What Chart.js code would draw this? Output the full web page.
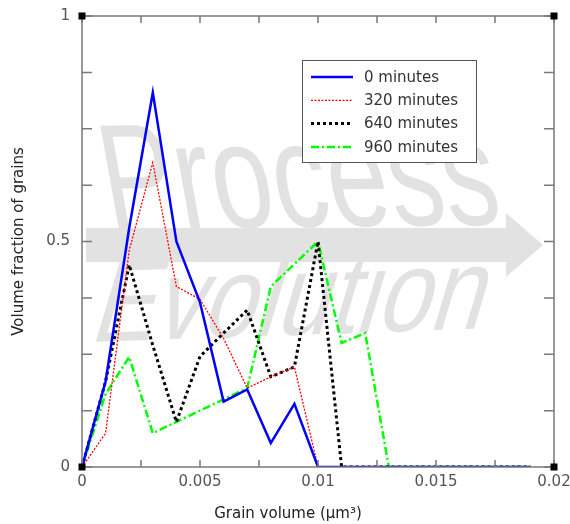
<!DOCTYPE html>
<html>
<head>
<meta charset="utf-8">
<script src="https://cdn.jsdelivr.net/npm/chart.js@4.4.1/dist/chart.umd.min.js"></script>
<style>
  html, body { margin: 0; padding: 0; background: #fff; }
</style>
</head>
<body>
<canvas id="grainChart" width="570" height="524"></canvas>
<script>
// grain volume (um^3) sample points
const grainVolume = [0, 0.001, 0.002, 0.003, 0.004, 0.005, 0.006, 0.007, 0.008, 0.009,
  0.01, 0.011, 0.012, 0.013, 0.014, 0.015, 0.016, 0.017, 0.018, 0.019];

const min0 = [0, 0.19, 0.53, 0.83, 0.5, 0.365, 0.145, 0.172, 0.053, 0.14,
  0, 0, 0, 0, 0, 0, 0, 0, 0, 0];
const min320 = [0, 0.075, 0.48, 0.675, 0.4, 0.372, 0.285, 0.175, 0.2, 0.222,
  0, 0, 0, 0, 0, 0, 0, 0, 0, 0];
const min640 = [0, 0.19, 0.448, 0.27, 0.1, 0.245, 0.297, 0.348, 0.2, 0.222,
  0.5, 0, 0, 0, 0, 0, 0, 0, 0, 0];
const min960 = [0, 0.162, 0.244, 0.075, 0.1, 0.125, 0.15, 0.175, 0.4, 0.45,
  0.5, 0.275, 0.297, 0, 0, 0, 0, 0, 0, 0];

const seriesLabels = ["0 minutes", "320 minutes", "640 minutes", "960 minutes"];
const xTickLabels = ["0", "0.005", "0.01", "0.015", "0.02"];
const yTickLabels = ["0", "0.5", "1"];

function toPoints(ys) {
  return grainVolume.map((x, i) => ({ x: x, y: ys[i] }));
}

// faint "Process Evolution" artwork behind the curves
const watermark = {
  id: "watermark",
  beforeDatasetsDraw(chart) {
    const ctx = chart.ctx;
    ctx.save();
    ctx.fillStyle = "#e2e2e2";

    function skewedText(txt, size, x, y, width, tilt, lean) {
      ctx.save();
      ctx.font = size + "px 'Liberation Sans', Arial, sans-serif";
      const w = ctx.measureText(txt).width;
      ctx.translate(x, y);
      ctx.transform(1, tilt, lean, 1, 0, 0);
      ctx.scale(width / w, 1);
      ctx.fillText(txt, 0, 0);
      ctx.restore();
    }
    skewedText("Process", 150, 110, 229, 395, -0.012, 0.18);

    // arrow
    ctx.beginPath();
    ctx.moveTo(86, 228);
    ctx.lineTo(506, 228);
    ctx.lineTo(506, 213);
    ctx.lineTo(543, 245);
    ctx.lineTo(506, 277);
    ctx.lineTo(506, 262);
    ctx.lineTo(86, 262);
    ctx.closePath();
    ctx.fill();

    skewedText("Evolution", 116, 88, 342, 392, -0.035, -0.3);
    ctx.restore();
  }
};

// box, inward ticks, corner markers, legend and x title
const frame = {
  id: "frame",
  afterDraw(chart) {
    const ctx = chart.ctx;
    const a = chart.chartArea;
    const xs = chart.scales.x;
    const ys = chart.scales.y;
    ctx.save();
    ctx.strokeStyle = "#7a7a7a";
    ctx.lineWidth = 1.5;
    ctx.strokeRect(a.left, a.top, a.right - a.left, a.bottom - a.top);

    ctx.beginPath();
    xs.ticks.forEach((t) => {
      const px = xs.getPixelForValue(t.value);
      ctx.moveTo(px, a.bottom);
      ctx.lineTo(px, a.bottom - 7);
      ctx.moveTo(px, a.top);
      ctx.lineTo(px, a.top + 7);
    });
    ys.ticks.forEach((t) => {
      const py = ys.getPixelForValue(t.value);
      ctx.moveTo(a.left, py);
      ctx.lineTo(a.left + 10, py);
      ctx.moveTo(a.right, py);
      ctx.lineTo(a.right - 10, py);
    });
    ctx.stroke();

    ctx.fillStyle = "#000";
    [[a.left, a.top], [a.right, a.top], [a.left, a.bottom], [a.right, a.bottom]].forEach((c) => {
      ctx.fillRect(c[0] - 3.5, c[1] - 3.5, 7, 7);
    });

    // legend
    const lx = 302, ly = 60, lw = 174, lh = 102;
    ctx.fillStyle = "#fff";
    ctx.fillRect(lx, ly, lw, lh);
    ctx.strokeStyle = "#555";
    ctx.lineWidth = 1;
    ctx.strokeRect(lx + 0.5, ly + 0.5, lw, lh);
    ctx.font = "15px 'DejaVu Sans', Verdana, sans-serif";
    ctx.textBaseline = "middle";
    chart.data.datasets.forEach((ds, i) => {
      const yy = 77 + i * 23.3;
      ctx.strokeStyle = ds.borderColor;
      ctx.lineWidth = ds.borderWidth;
      ctx.setLineDash(ds.borderDash || []);
      ctx.beginPath();
      ctx.moveTo(311, yy);
      ctx.lineTo(353, yy);
      ctx.stroke();
      ctx.setLineDash([]);
      ctx.fillStyle = "#333";
      ctx.fillText(ds.label, 364, yy + 1);
    });

    ctx.fillStyle = "#222";
    ctx.textAlign = "center";
    ctx.textBaseline = "alphabetic";
    ctx.font = "15px 'DejaVu Sans', Verdana, sans-serif";
    ctx.fillText("Grain volume (\u03bcm\u00b3)", 288, 518);
    ctx.restore();
  }
};

const ctx = document.getElementById("grainChart").getContext("2d");

new Chart(ctx, {
  type: "line",
  data: {
    datasets: [
      {
        label: seriesLabels[0],
        data: toPoints(min0),
        borderColor: "#0000ff",
        borderWidth: 2.5,
      },
      {
        label: seriesLabels[1],
        data: toPoints(min320),
        borderColor: "#ff0000",
        borderWidth: 1.3,
        borderDash: [2, 1.5],
      },
      {
        label: seriesLabels[2],
        data: toPoints(min640),
        borderColor: "#000000",
        borderWidth: 3,
        borderDash: [3, 3],
      },
      {
        label: seriesLabels[3],
        data: toPoints(min960),
        borderColor: "#00ff00",
        borderWidth: 2.5,
        borderDash: [8, 3, 2, 3],
      },
    ],
  },
  options: {
    responsive: false,
    animation: false,
    layout: { padding: { top: 16, right: 16, left: 0, bottom: 0 } },
    elements: { point: { radius: 0 }, line: { tension: 0 } },
    plugins: { legend: { display: false }, tooltip: { enabled: false } },
    scales: {
      x: {
        type: "linear",
        min: 0,
        max: 0.02,
        grid: { display: false, drawTicks: false },
        border: { display: false },
        afterFit: (scale) => {
          scale.height = 57;
          scale.paddingLeft = 0;
          scale.paddingRight = 0;
        },
        ticks: {
          stepSize: 0.0025,
          padding: 6,
          color: "#555",
          font: { family: "'DejaVu Sans', Verdana, sans-serif", size: 15 },
          maxRotation: 0,
          autoSkip: false,
          callback: (v) => {
            const k = Math.round(v / 0.005);
            return Math.abs(v - k * 0.005) < 1e-9 ? xTickLabels[k] : "";
          },
        },
      },
      y: {
        min: 0,
        max: 1,
        grid: { display: false, drawTicks: false },
        border: { display: false },
        afterFit: (scale) => {
          scale.width = 82;
          scale.paddingTop = 0;
          scale.paddingBottom = 0;
        },
        title: {
          display: true,
          text: "Volume fraction of grains",
          color: "#222",
          font: { family: "'DejaVu Sans', Verdana, sans-serif", size: 15 },
          padding: { top: 10, bottom: 0 },
        },
        ticks: {
          stepSize: 0.125,
          padding: 12,
          color: "#555",
          font: { family: "'DejaVu Sans', Verdana, sans-serif", size: 15 },
          autoSkip: false,
          callback: (v) => {
            const k = Math.round(v / 0.5);
            return Math.abs(v - k * 0.5) < 1e-9 ? yTickLabels[k] : "";
          },
        },
      },
    },
  },
  plugins: [watermark, frame],
});
</script>
</body>
</html>
